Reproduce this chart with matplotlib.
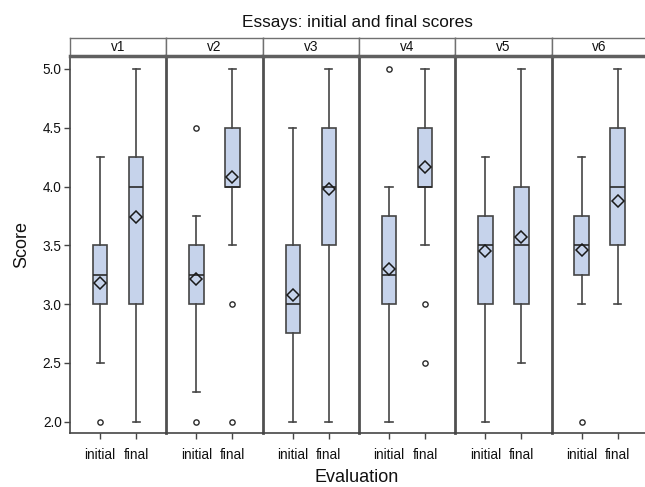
import matplotlib
matplotlib.use("Agg")
import matplotlib.pyplot as plt

plt.rcParams['font.family'] = ['Liberation Sans', 'DejaVu Sans']

# Essay raters and evaluation rounds
panels = ['v1', 'v2', 'v3', 'v4', 'v5', 'v6']
groups = ['initial', 'final']

# Box-plot summaries for the initial evaluation
init_q1 = [3.0, 3.0, 2.75, 3.0, 3.0, 3.25]
init_med = [3.25, 3.25, 3.0, 3.25, 3.5, 3.5]
init_q3 = [3.5, 3.5, 3.5, 3.75, 3.75, 3.75]
init_lo = [2.5, 2.25, 2.0, 2.0, 2.0, 3.0]
init_hi = [4.25, 3.75, 4.5, 4.0, 4.25, 4.25]
init_mean = [3.18, 3.21, 3.08, 3.30, 3.45, 3.46]
init_out = [[2.0], [2.0, 4.5], [], [5.0], [], [2.0]]

# Box-plot summaries for the final evaluation
final_q1 = [3.0, 4.0, 3.5, 4.0, 3.0, 3.5]
final_med = [4.0, 4.0, 4.0, 4.0, 3.5, 4.0]
final_q3 = [4.25, 4.5, 4.5, 4.5, 4.0, 4.5]
final_lo = [2.0, 3.5, 2.0, 3.5, 2.5, 3.0]
final_hi = [5.0, 5.0, 5.0, 5.0, 5.0, 5.0]
final_mean = [3.74, 4.08, 3.98, 4.17, 3.57, 3.88]
final_out = [[], [3.0, 2.0], [], [3.0, 2.5], [], []]

y_ticks = [2.0, 2.5, 3.0, 3.5, 4.0, 4.5, 5.0]

W, H = 645, 487
fig = plt.figure(figsize=(W / 100, H / 100), dpi=100)
fig.patch.set_facecolor('white')

edge = '#454545'
fill = '#c6d3eb'

left_px, panel_w = 70.0, 96.3
plot_top, plot_bot = 56.0, 432.7
strip_top = 38.0

for i, name in enumerate(panels):
    x0 = (left_px + i * panel_w) / W
    ax = fig.add_axes([x0, 1 - plot_bot / H, panel_w / W, (plot_bot - plot_top) / H])
    stats = [
        dict(med=init_med[i], q1=init_q1[i], q3=init_q3[i], whislo=init_lo[i],
             whishi=init_hi[i], mean=init_mean[i], fliers=init_out[i], label=groups[0]),
        dict(med=final_med[i], q1=final_q1[i], q3=final_q3[i], whislo=final_lo[i],
             whishi=final_hi[i], mean=final_mean[i], fliers=final_out[i], label=groups[1]),
    ]
    ax.bxp(stats, positions=[1, 2], widths=0.40, patch_artist=True,
           showmeans=True, showfliers=True,
           boxprops=dict(facecolor=fill, edgecolor=edge, linewidth=1.2),
           medianprops=dict(color='#2a2a2a', linewidth=1.2),
           whiskerprops=dict(color=edge, linewidth=1.2),
           capprops=dict(color=edge, linewidth=1.2),
           capwidths=0.2,
           meanprops=dict(marker='D', markerfacecolor='none', markeredgecolor='#1a1a1a',
                          markersize=5.8, markeredgewidth=1.1),
           flierprops=dict(marker='o', markerfacecolor='none', markeredgecolor='#2a2a2a',
                           markersize=3.8, markeredgewidth=1.0))
    ax.set_xlim(0.16, 2.84)
    ax.set_ylim(1.906, 5.11)
    ax.patch.set_facecolor('none')
    ax.tick_params(axis='x', length=4, width=1.0, color=edge, labelsize=9.8, pad=7,
                   labelcolor='#111111')
    ax.spines['top'].set_visible(False)
    ax.spines['bottom'].set_color(edge)
    ax.spines['bottom'].set_linewidth(1.2)
    ax.spines['right'].set_color('#505050')
    ax.spines['right'].set_linewidth(2.0)
    if i == 0:
        ax.spines['left'].set_color(edge)
        ax.spines['left'].set_linewidth(1.2)
        ax.set_yticks(y_ticks)
        ax.set_yticklabels([f'{v:.1f}' for v in y_ticks])
        ax.tick_params(axis='y', length=4, width=1.0, color=edge, labelsize=9.8, pad=2,
                       labelcolor='#111111')
    else:
        ax.spines['left'].set_visible(False)
        ax.set_yticks([])

    # strip header
    sax = fig.add_axes([x0, 1 - plot_top / H, panel_w / W, (plot_top - strip_top) / H])
    sax.set_xticks([])
    sax.set_yticks([])
    sax.patch.set_facecolor('white')
    for s in ['top', 'left', 'right']:
        sax.spines[s].set_color('#707070')
        sax.spines[s].set_linewidth(1.0)
    sax.spines['bottom'].set_color('#606060')
    sax.spines['bottom'].set_linewidth(2.5)
    sax.text(0.5, 0.48, name, ha='center', va='center', fontsize=9.8, color='#111111',
             transform=sax.transAxes)

fig.text(357 / W, 1 - 23 / H, 'Essays: initial and final scores', ha='center', va='center',
         fontsize=12.4, color='#111111')
fig.text(357 / W, 1 - 478 / H, 'Evaluation', ha='center', va='center',
         fontsize=13, color='#111111')
fig.text(22 / W, 1 - 245 / H, 'Score', ha='center', va='center', rotation=90,
         fontsize=13, color='#111111')

fig.savefig('out.png', dpi=100)
